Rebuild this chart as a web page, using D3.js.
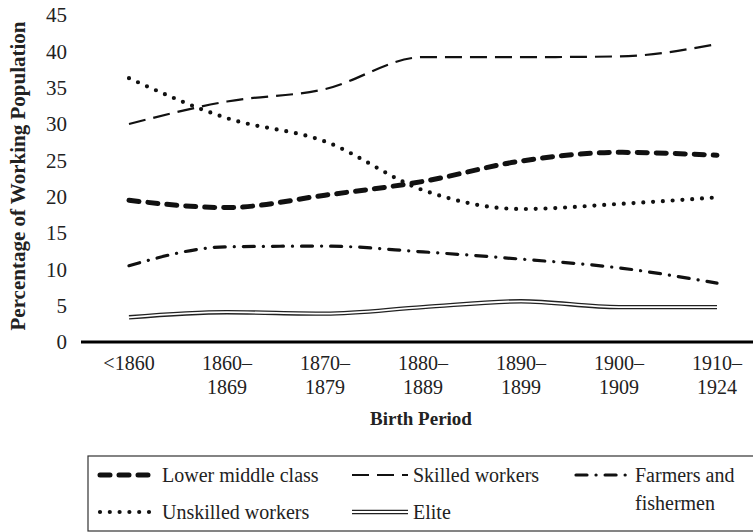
<!DOCTYPE html>
<html>
<head>
<meta charset="utf-8">
<script src="https://cdn.jsdelivr.net/npm/d3@7"></script>
<style>
  body { margin: 0; background: #fff; }
  svg text { font-family: "Liberation Serif", "Times New Roman", Tinos, "DejaVu Serif", "Noto Serif", serif; fill: #222; }
</style>
</head>
<body>
<svg id="chart" width="753" height="532" font-family="Liberation Serif, Times New Roman, DejaVu Serif, serif"></svg>
<script>
// birth periods (two-line labels)
const periods = ["<1860", "1860–1869", "1870–1879", "1880–1889", "1890–1899", "1900–1909", "1910–1924"];
const periodLines = [["<1860"], ["1860–", "1869"], ["1870–", "1879"], ["1880–", "1889"], ["1890–", "1899"], ["1900–", "1909"], ["1910–", "1924"]];
const yTicks = [0, 5, 10, 15, 20, 25, 30, 35, 40, 45];

// percentage of working population per birth period
const lowerMiddle = [19.5, 18.5, 20.2, 22.1, 24.9, 26.1, 25.7];
const skilled = [30.0, 33.1, 34.8, 39.2, 39.2, 39.3, 41.0];
const unskilled = [36.3, 30.8, 27.6, 20.9, 18.3, 19.0, 19.9];
const farmers = [10.5, 13.1, 13.2, 12.4, 11.4, 10.2, 8.1];
const elite = [3.4, 4.1, 3.9, 4.8, 5.6, 4.8, 4.8];

const series = [
  { name: "Lower middle class", values: lowerMiddle, style: "lmc" },
  { name: "Skilled workers", values: skilled, style: "skilled" },
  { name: "Farmers and fishermen", values: farmers, style: "farm" },
  { name: "Unskilled workers", values: unskilled, style: "unskilled" },
  { name: "Elite", values: elite, style: "elite" }
];

const styles = {
  lmc: { width: 5, dash: "10,9", cap: "round" },
  skilled: { width: 2.2, dash: "17,8", cap: "butt" },
  unskilled: { width: 4.2, dash: "0,9.8", cap: "round" },
  farm: { width: 3.2, dash: "11,9,0.1,9", cap: "round" }
};

const svg = d3.select("#chart");

const x = d3.scalePoint()
  .domain(periods)
  .range([129, 717]);

const y = d3.scaleLinear()
  .domain([0, 45])
  .range([342, 15]);

// y tick labels
svg.append("g")
  .selectAll("text")
  .data(yTicks)
  .enter()
  .append("text")
  .attr("x", 67)
  .attr("y", d => y(d))
  .attr("dy", "0.35em")
  .attr("text-anchor", "end")
  .style("font-size", "21px")
  .text(d => d);

// x axis line
svg.append("line")
  .attr("x1", 81).attr("x2", 753)
  .attr("y1", y(0)).attr("y2", y(0))
  .attr("stroke", "#000")
  .attr("stroke-width", 3.2);

// x tick labels
const xt = svg.append("g")
  .selectAll("text")
  .data(periods)
  .enter()
  .append("text")
  .attr("x", d => x(d))
  .attr("y", 370)
  .attr("text-anchor", "middle")
  .style("font-size", "20px");

xt.each(function (d, i) {
  periodLines[i].forEach((t, k) => {
    d3.select(this).append("tspan")
      .attr("x", x(d))
      .attr("dy", k == 0 ? 0 : 24)
      .text(t);
  });
});

// axis titles
svg.append("text")
  .attr("x", 421)
  .attr("y", 425)
  .attr("text-anchor", "middle")
  .style("font-size", "19px")
  .style("font-weight", "bold")
  .text("Birth Period");

svg.append("text")
  .attr("transform", "translate(25,176) rotate(-90)")
  .attr("text-anchor", "middle")
  .style("font-size", "21px")
  .style("font-weight", "bold")
  .text("Percentage of Working Population");

// lines
const line = d3.line()
  .x((d, i) => x(periods[i]))
  .y(d => y(d))
  .curve(d3.curveMonotoneX);

function drawStyled(sel, s, pathFn) {
  if (s.style == "elite") {
    sel.append("path").attr("d", pathFn).attr("fill", "none")
      .attr("stroke", "#222").attr("stroke-width", 4.4);
    sel.append("path").attr("d", pathFn).attr("fill", "none")
      .attr("stroke", "#fff").attr("stroke-width", 1.8);
    return;
  }
  const st = styles[s.style];
  sel.append("path").attr("d", pathFn).attr("fill", "none")
    .attr("stroke", "#111")
    .attr("stroke-width", st.width)
    .attr("stroke-dasharray", st.dash)
    .attr("stroke-linecap", st.cap);
}

const drawOrder = ["elite", "farm", "lmc", "skilled", "unskilled"];
drawOrder.forEach(key => {
  const s = series.find(d => d.style == key);
  drawStyled(svg.append("g"), s, line(s.values));
});

// legend
const legend = svg.append("g");
legend.append("rect")
  .attr("x", 88).attr("y", 456)
  .attr("width", 700).attr("height", 75)
  .attr("fill", "none")
  .attr("stroke", "#333")
  .attr("stroke-width", 1.2);

const legendPos = [
  { x: 100, y: 475, tx: 162 },
  { x: 352, y: 475, tx: 413 },
  { x: 576, y: 475, tx: 635 },
  { x: 100, y: 512, tx: 162 },
  { x: 352, y: 512, tx: 413 }
];

series.forEach((s, i) => {
  const p = legendPos[i];
  const w = i == 2 ? 54 : 56;
  drawStyled(legend.append("g"), s, `M${p.x},${p.y}L${p.x + w},${p.y}`);
  const t = legend.append("text")
    .attr("x", p.tx)
    .attr("y", p.y)
    .attr("dy", "0.33em")
    .style("font-size", "20px");
  if (s.style == "farm") {
    t.append("tspan").attr("x", p.tx).text("Farmers and");
    t.append("tspan").attr("x", p.tx).attr("dy", 28).text("fishermen");
  } else {
    t.text(s.name);
  }
});
</script>
</body>
</html>
